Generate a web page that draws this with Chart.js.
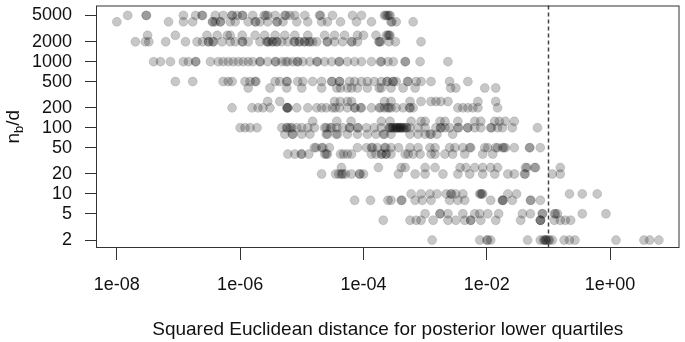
<!DOCTYPE html>
<html>
<head>
<meta charset="utf-8">
<script src="https://cdn.jsdelivr.net/npm/chart.js@4.4.0/dist/chart.umd.min.js"></script>
<style>
  html, body { margin: 0; padding: 0; background: #fff; }
  #chart1 { display: block; }
</style>
</head>
<body>
<canvas id="chart1" width="685" height="342"></canvas>
<script>
// n_b/d levels (rows of the plot) and the x values read for each row
const yLevels = [5000, 4000, 2500, 2000, 1000, 500, 400, 250, 200, 125, 100, 80, 50, 40, 25, 20, 10, 8, 5, 4, 2];

const n5000 = [1.5e-8, 3e-8, 3e-8, 1.2e-7, 1.9e-7, 2.45e-7, 2.4e-7, 3.95e-7, 5.3e-7, 7.4e-7, 7.4e-7, 8.9e-7, 1.08e-6, 1.1e-6, 1.6e-6, 2.45e-6, 2.8e-6, 2.6e-6, 3.7e-6, 5.3e-6, 5.5e-6, 6.4e-6, 7.7e-6, 1.12e-5, 1.95e-5, 2e-5, 3.15e-5, 6.65e-5, 9.3e-5, 2.2e-4, 2.3e-4, 2.45e-4, 2.6e-4, 2.7e-4];
const n4000 = [1e-8, 6.9e-8, 1.2e-7, 1.7e-7, 3.55e-7, 3.6e-7, 3.95e-7, 4.75e-7, 4.8e-7, 6.9e-7, 8.3e-7, 1.35e-6, 1.75e-6, 1.8e-6, 2.1e-6, 2.8e-6, 3.95e-6, 4e-6, 4.95e-6, 8.3e-6, 1.25e-5, 2.1e-5, 2.6e-5, 4.25e-5, 7.7e-5, 1.35e-4, 2.8e-4, 2.9e-4, 3.4e-4, 6.4e-4];
const n2500 = [3.15e-8, 8.9e-8, 2.9e-7, 4.25e-7, 6.2e-7, 6.9e-7, 1.08e-6, 1.75e-6, 2.5e-6, 3.7e-6, 5.3e-6, 7.7e-6, 1.25e-5, 2.35e-5, 3.4e-5, 4.95e-5, 8e-5, 1e-4, 1.6e-4, 2.35e-4, 2.5e-4, 2.6e-4, 2.7e-4];
const n2000 = [2e-8, 2.9e-8, 3.3e-8, 6.2e-8, 1.3e-7, 2e-7, 2.45e-7, 3.05e-7, 3.1e-7, 3.7e-7, 3.6e-7, 5.1e-7, 6.9e-7, 8.3e-7, 1.08e-6, 1.1e-6, 1.35e-6, 2.1e-6, 2.8e-6, 2.7e-6, 2.9e-6, 3.3e-6, 3.4e-6, 3.95e-6, 3.9e-6, 4.75e-6, 5.95e-6, 7.7e-6, 7.5e-6, 9.3e-6, 9e-6, 1.12e-5, 1.1e-5, 1.35e-5, 1.3e-5, 1.5e-5, 1.75e-5, 2.6e-5, 2.6e-5, 3.4e-5, 4.6e-5, 6.4e-5, 6.5e-5, 8e-5, 1.8e-4, 1.8e-4, 1.9e-4, 2.6e-4, 3.3e-4, 8.6e-4];
const n1000 = [3.95e-8, 5.1e-8, 7.4e-8, 1.2e-7, 1.45e-7, 1.9e-7, 1.9e-7, 3.3e-7, 4.4e-7, 5.3e-7, 6.4e-7, 7.7e-7, 9.3e-7, 1.12e-6, 1.35e-6, 1.6e-6, 2.1e-6, 2.1e-6, 2.8e-6, 3.7e-6, 3.8e-6, 4.75e-6, 5.5e-6, 5.95e-6, 7.2e-6, 8.6e-6, 8.5e-6, 1.04e-5, 1.35e-5, 1.75e-5, 1.8e-5, 2.35e-5, 3.05e-5, 4.1e-5, 4e-5, 5.5e-5, 7.2e-5, 9.3e-5, 1.35e-4, 1.95e-4, 1.9e-4, 2.5e-4, 3.05e-4, 4.75e-4, 4.8e-4, 8.3e-4, 2.35e-3];
const n500 = [8.9e-8, 1.7e-7, 5.3e-7, 6.4e-7, 7.4e-7, 1.2e-6, 1.45e-6, 1.75e-6, 1.8e-6, 3.7e-6, 4.4e-6, 5.7e-6, 5.8e-6, 8.6e-6, 1.04e-5, 1.5e-5, 2.1e-5, 3.05e-5, 3.1e-5, 4.1e-5, 4.1e-5, 5.95e-5, 7.2e-5, 9.3e-5, 1.16e-4, 1.5e-4, 1.95e-4, 2.45e-4, 2.4e-4, 3.05e-4, 3e-4, 3.4e-4, 5.3e-4, 5.2e-4, 7.2e-4, 8.6e-4, 1.25e-3, 2.5e-3, 4.95e-3];
const n400 = [1.35e-6, 3.05e-6, 5.7e-6, 1e-5, 2.1e-5, 3.7e-5, 4.25e-5, 5.5e-5, 6.4e-5, 8e-5, 1.16e-4, 1.8e-4, 1.95e-4, 2.8e-4, 4.4e-4, 6.9e-4, 2.6e-3, 3.15e-3, 9.3e-3, 1.4e-2];
const n250 = [2.8e-6, 4.4e-6, 3.4e-5, 4.2e-5, 5.5e-5, 6.4e-5, 2.2e-4, 2.8e-4, 5.7e-4, 8.6e-4, 1.25e-3, 1.5e-3, 1.8e-3, 2.35e-3, 7.2e-3, 1.4e-2];
const n200 = [7.4e-7, 1.56e-6, 1.95e-6, 2.35e-6, 3.05e-6, 5.7e-6, 5.95e-6, 5.8e-6, 5.9e-6, 8.3e-6, 1.25e-5, 1.75e-5, 2.1e-5, 2.5e-5, 3.15e-5, 3.5e-5, 4.1e-5, 5.5e-5, 7.2e-5, 7.3e-5, 9.3e-5, 9e-5, 1.35e-4, 1.8e-4, 1.9e-4, 2.2e-4, 2.45e-4, 2.6e-4, 2.8e-4, 3.4e-4, 4.4e-4, 5.7e-4, 5.6e-4, 6.4e-4, 3.4e-3, 4.1e-3, 4.95e-3, 5.95e-3, 7.2e-3, 1.5e-2];
const n125 = [1.5e-5, 3.7e-5, 6.3e-5, 1.95e-4, 2.7e-4, 5.95e-4, 8.6e-4, 1e-3, 1.75e-3, 2.1e-3, 3.4e-3, 6.4e-3, 8e-3, 1.35e-2, 1.6e-2, 2e-2, 2.8e-2];
const n100 = [1e-6, 1.2e-6, 1.45e-6, 1.88e-6, 4.75e-6, 5.7e-6, 5.8e-6, 6.9e-6, 6.5e-6, 8.3e-6, 1e-5, 1.25e-5, 1.6e-5, 2.35e-5, 2.5e-5, 3.05e-5, 2.9e-5, 3.7e-5, 4.6e-5, 5.95e-5, 6e-5, 8e-5, 8.2e-5, 1.12e-4, 1.5e-4, 1.95e-4, 2.6e-4, 2.7e-4, 2.8e-4, 3.05e-4, 3e-4, 3.3e-4, 3.4e-4, 3.5e-4, 3.6e-4, 3.8e-4, 3.95e-4, 4e-4, 4.2e-4, 4.4e-4, 4.6e-4, 4.95e-4, 5e-4, 5.7e-4, 7.7e-4, 1e-3, 1.5e-3, 1.8e-3, 1.8e-3, 2.1e-3, 2.5e-3, 3.4e-3, 3.5e-3, 4.95e-3, 4.9e-3, 6.4e-3, 8e-3, 1.16e-2, 1.2e-2, 1.5e-2, 1.8e-2, 2.6e-2, 6.65e-2];
const n80 = [5.3e-6, 7.2e-6, 7e-6, 1e-5, 1.35e-5, 2.5e-5, 2.6e-5, 3.8e-5, 3.6e-5, 5.5e-5, 8e-5, 1.16e-4, 1.6e-4, 2.2e-4, 2.1e-4, 2.8e-4, 5.7e-4, 7.7e-4, 1e-3, 1.25e-3, 1.2e-3, 1.56e-3, 2.8e-3];
const n50 = [1.6e-5, 1.7e-5, 2.1e-5, 2.2e-5, 2.8e-5, 8e-5, 1.12e-4, 1.35e-4, 1.4e-4, 1.68e-4, 2.2e-4, 2.3e-4, 2.8e-4, 3.7e-4, 5.7e-4, 7.7e-4, 1.2e-3, 1.45e-3, 2.5e-3, 3.05e-3, 4.1e-3, 5.3e-3, 5.5e-3, 9.3e-3, 1.04e-2, 1.4e-2, 1.5e-2, 1.8e-2, 1.9e-2, 2e-2, 2.8e-2, 4.95e-2, 5e-2, 7.4e-2];
const n40 = [5.95e-6, 7.7e-6, 1e-5, 9.8e-6, 1.3e-5, 2.35e-5, 2.6e-5, 2.5e-5, 4.25e-5, 4.75e-5, 5.5e-5, 6.4e-5, 1.35e-4, 1.6e-4, 1.95e-4, 2e-4, 2.35e-4, 2.3e-4, 2.8e-4, 4.75e-4, 5.3e-4, 6.4e-4, 8.3e-4, 1.25e-3, 1.45e-3, 2.1e-3, 2.8e-3, 4.4e-3, 8.6e-3, 1.25e-2];
const n25 = [4.4e-5, 1.75e-4, 4.1e-4, 4.75e-4, 1e-3, 1.45e-3, 3.7e-3, 4.6e-3, 6.4e-3, 8.6e-3, 1.16e-2, 1.5e-2, 4.25e-2, 4.5e-2, 6.2e-2, 6e-2, 1.56e-1];
const n20 = [2.1e-5, 3.55e-5, 4e-5, 4.4e-5, 4.6e-5, 5.1e-5, 6.4e-5, 8.6e-5, 8.8e-5, 1e-4, 3.7e-4, 6.9e-4, 1e-3, 1.95e-3, 3.4e-3, 5.3e-3, 8.6e-3, 1.35e-2, 2.2e-2, 2.8e-2, 4.1e-2, 4.2e-2, 1.16e-1, 1.56e-1];
const n10 = [5.95e-4, 8.6e-4, 1.2e-3, 1.56e-3, 2.2e-3, 2.6e-3, 2.7e-3, 3.15e-3, 4.1e-3, 7.7e-3, 8e-3, 8.3e-3, 8.6e-3, 2.2e-2, 3.05e-2, 2.2e-1, 3.55e-1, 6.2e-1];
const n8 = [7.2e-5, 1.3e-4, 2.5e-4, 2.8e-4, 4.1e-4, 4.2e-4, 6.9e-4, 9e-4, 1.25e-3, 2.5e-3, 3.4e-3, 4.4e-3, 1.16e-2, 1.8e-2, 1.8e-2, 1.85e-2, 2.6e-2, 5.1e-2, 5.2e-2, 7.4e-2];
const n5 = [1e-3, 1.75e-3, 1.75e-3, 2.35e-3, 4.1e-3, 6.4e-3, 7.7e-3, 1.04e-2, 1.56e-2, 3.8e-2, 5.1e-2, 8e-2, 8e-2, 1.25e-1, 1.3e-1, 1.4e-1, 3.55e-1, 8.6e-1];
const n4 = [2.1e-4, 5.7e-4, 7.2e-4, 8.6e-4, 1.35e-3, 2.35e-3, 3.15e-3, 4.4e-3, 5.5e-3, 5.5e-3, 8e-3, 1.4e-2, 3.55e-2, 7.4e-2, 7.4e-2, 7.5e-2, 1.25e-1, 1.56e-1, 1.88e-1, 2.3e-1];
const n2 = [1.3e-3, 7.7e-3, 1e-2, 1.04e-2, 1.16e-2, 4.6e-2, 7.4e-2, 8.3e-2, 8.8e-2, 9e-2, 9.3e-2, 1e-1, 1.04e-1, 1.16e-1, 1.8e-1, 2.2e-1, 2.7e-1, 1.25, 3.55, 4.4, 6.2];

const xRows = [n5000, n4000, n2500, n2000, n1000, n500, n400, n250, n200, n125, n100, n80, n50, n40, n25, n20, n10, n8, n5, n4, n2];

const xTicks = [1e-8, 1e-6, 1e-4, 1e-2, 1];
const xTickLabels = ['1e-08', '1e-06', '1e-04', '1e-02', '1e+00'];
const yTicks = [2, 5, 10, 20, 50, 100, 200, 500, 1000, 2000, 5000];
const yTickLabels = ['2', '5', '10', '20', '50', '100', '200', '500', '1000', '2000', '5000'];
const cutoff = 0.1;

const xMin = 4.59e-9, xMax = 13.4;
const yMin = 1.52, yMax = 7060;

const fontFamily = '"Liberation Sans", Arial, Helvetica, sans-serif';

const points = [];
xRows.forEach((row, i) => {
    row.forEach(v => points.push({ x: v, y: yLevels[i] }));
});

// dashed cut-off line, plot frame and the y title with its subscript
const extras = {
    id: 'extras',
    afterDatasetsDraw(chart) {
        const ctx = chart.ctx;
        const a = chart.chartArea;
        const xs = chart.scales.x;
        ctx.save();

        const lx = Math.round(xs.getPixelForValue(cutoff)) + 0.5;
        ctx.strokeStyle = '#444';
        ctx.lineWidth = 1.5;
        ctx.setLineDash([4, 3]);
        ctx.beginPath();
        ctx.moveTo(lx, a.top);
        ctx.lineTo(lx, a.bottom);
        ctx.stroke();

        ctx.setLineDash([]);
        ctx.lineWidth = 1;
        ctx.strokeStyle = '#333';
        ctx.strokeRect(a.left + 0.5, a.top + 0.5, a.right - a.left - 1, a.bottom - a.top - 1);

        const big = '19px ' + fontFamily;
        const small = '13px ' + fontFamily;
        ctx.translate(14, (a.top + a.bottom) / 2);
        ctx.rotate(-Math.PI / 2);
        ctx.fillStyle = '#111';
        ctx.textBaseline = 'middle';
        ctx.textAlign = 'left';
        ctx.font = big;
        const w1 = ctx.measureText('n').width;
        const w3 = ctx.measureText('/d').width;
        ctx.font = small;
        const w2 = ctx.measureText('b').width;
        let x0 = -(w1 + w2 + w3) / 2;
        ctx.font = big;
        ctx.fillText('n', x0, 0);
        ctx.font = small;
        ctx.fillText('b', x0 + w1, 5);
        ctx.font = big;
        ctx.fillText('/d', x0 + w1 + w2, 0);
        ctx.restore();
    }
};

var ctx1 = document.getElementById('chart1').getContext('2d');
var chart1 = new Chart(ctx1, {
    type: 'scatter',
    data: {
        datasets: [{
            data: points,
            backgroundColor: 'rgba(0,0,0,0.22)',
            borderColor: 'rgba(0,0,0,0.12)',
            borderWidth: 1,
            pointRadius: 4.5,
            pointHoverRadius: 4.5
        }]
    },
    options: {
        responsive: false,
        animation: false,
        events: [],
        layout: { padding: { top: 3, right: 2, left: 0, bottom: 0 } },
        plugins: {
            legend: { display: false },
            tooltip: { enabled: false }
        },
        scales: {
            x: {
                type: 'logarithmic',
                min: xMin,
                max: xMax,
                afterBuildTicks: s => { s.ticks = xTicks.map(v => ({ value: v })); },
                afterFit: s => { s.height = 94; s.paddingLeft = 0; s.paddingRight = 0; },
                ticks: {
                    callback: (v, i) => xTickLabels[i],
                    font: { size: 18, family: fontFamily },
                    color: '#111',
                    padding: 14,
                    autoSkip: false,
                    maxRotation: 0
                },
                grid: { drawOnChartArea: false, drawTicks: true, tickLength: 12, color: '#333' },
                border: { display: false },
                title: {
                    display: true,
                    text: 'Squared Euclidean distance for posterior lower quartiles',
                    font: { size: 19, family: fontFamily },
                    color: '#111',
                    padding: { top: 0, bottom: 1 }
                }
            },
            y: {
                type: 'logarithmic',
                min: yMin,
                max: yMax,
                afterBuildTicks: s => { s.ticks = yTicks.map(v => ({ value: v })); },
                afterFit: s => { s.width = 96; s.paddingTop = 0; s.paddingBottom = 0; },
                ticks: {
                    callback: (v, i) => yTickLabels[i],
                    font: { size: 18, family: fontFamily },
                    color: '#111',
                    padding: 13,
                    autoSkip: false
                },
                grid: { drawOnChartArea: false, drawTicks: true, tickLength: 11, color: '#333' },
                border: { display: false }
            }
        }
    },
    plugins: [extras]
});
</script>
</body>
</html>
